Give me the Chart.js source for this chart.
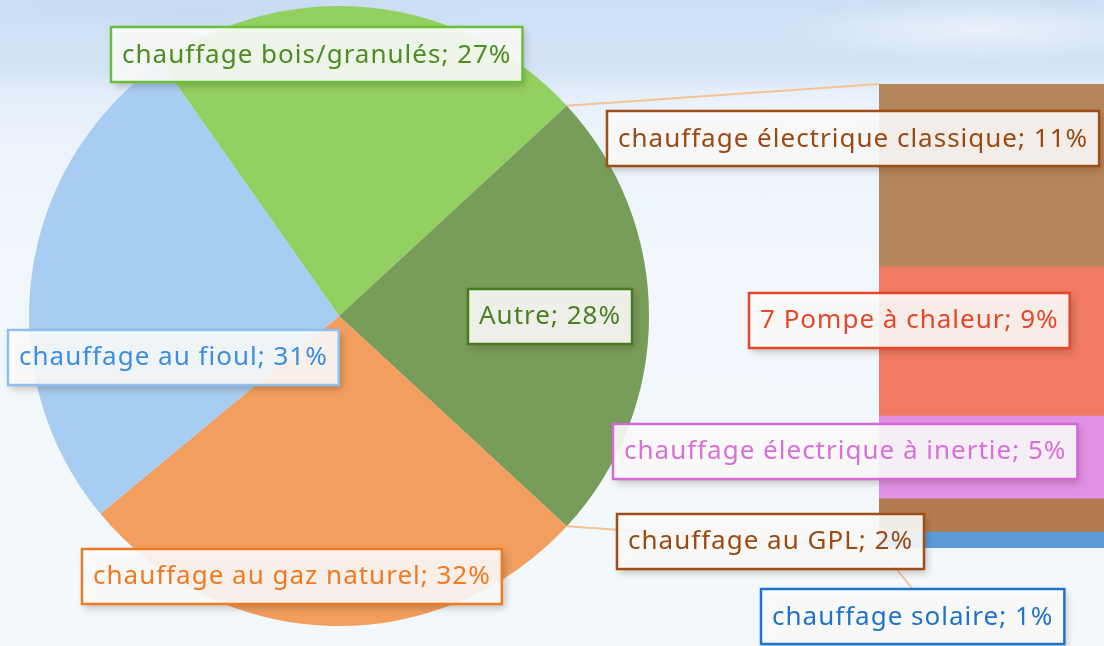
<!DOCTYPE html>
<html>
<head>
<meta charset="utf-8">
<script src="https://cdn.jsdelivr.net/npm/chart.js@4.4.1/dist/chart.umd.min.js"></script>
<style>
html,body{margin:0;padding:0;width:1104px;height:646px;overflow:hidden;}
body{
  background:
    radial-gradient(ellipse 260px 40px at 980px 30px, rgba(255,255,255,0.55), rgba(255,255,255,0) 80%),
    radial-gradient(ellipse 420px 50px at 820px 120px, rgba(255,255,255,0.45), rgba(255,255,255,0) 80%),
    radial-gradient(ellipse 380px 30px at 200px 10px, rgba(190,215,240,0.5), rgba(190,215,240,0) 80%),
    linear-gradient(180deg, #cddff3 0px, #d3e4f6 70px, #e3eefa 92px, #ebf3fb 150px, #f1f7fc 250px, #f3f8fc 100%);
}
.layer{position:absolute;left:0;top:0;width:1104px;height:646px;}
</style>
</head>
<body>
<div class="layer"><canvas id="pie"></canvas></div>
<div class="layer"><canvas id="bar"></canvas></div>
<script>
// ---- data ----
const pieLabels = ['chauffage bois/granulés', 'Autre', 'chauffage au gaz naturel', 'chauffage au fioul'];
const pieValues = [27, 28, 32, 31];
const pieColors = ['#93d062', '#789c5a', '#f29e5e', '#a8cdf2'];

const barLabels = ['chauffage électrique classique', '7 Pompe à chaleur', 'chauffage électrique à inertie', 'chauffage au GPL', 'chauffage solaire'];
const barValues = [11, 9, 5, 2, 1];
const barColors = ['#b5855a', '#f07b62', '#e091e6', '#b37c50', '#5b9bd8'];

// ---- label layout (box centers, colours) ----
const pieLabelStyle = [
  {cx: 316.5, cy: 54.5, text: '#4e8c24', border: '#6abf3a'},
  {cx: 550,   cy: 316,  text: '#4b7f22', border: '#4a7a1e'},
  {cx: 291.5, cy: 576,  text: '#ef7a22', border: '#ef7a22'},
  {cx: 173,   cy: 357,  text: '#3b8ee0', border: '#8ec0f2'}
];
const barLabelStyle = [
  {cx: 853.5, cy: 138.5, text: '#9a4a12', border: '#9e4e16'},
  {cx: 909,   cy: 320,   text: '#e5472a', border: '#e8462a'},
  {cx: 845.5, cy: 451,   text: '#d870d8', border: '#d56ad6'},
  {cx: 770.5, cy: 541,   text: '#9a4a12', border: '#9e4e16'},
  {cx: 913,   cy: 616.5, text: '#1f73c9', border: '#1f73c9'}
];

const pieTotal = pieValues.reduce((a, b) => a + b, 0);
// Excel "bar of pie": the "Autre" slice is centred on the right
const rotation = 90 - (pieValues[1] / pieTotal) * 180 - (pieValues[0] / pieTotal) * 360;

const pieChart = new Chart(document.getElementById('pie'), {
  type: 'pie',
  data: {
    labels: pieLabels,
    datasets: [{data: pieValues, backgroundColor: pieColors, borderWidth: 0, hoverOffset: 0, offset: 0}]
  },
  options: {
    responsive: true, maintainAspectRatio: false, animation: false,
    rotation: rotation,
    layout: {padding: {left: 29, top: 6, right: 455, bottom: 20}},
    plugins: {legend: {display: false}, tooltip: {enabled: false}}
  }
});

const FONT_FAMILY = '"Noto Sans", "DejaVu Sans", sans-serif';
const FONT_SIZE = 26;
const LETTER_SPACING = '1px';

function drawLabel(ctx, txt, st) {
  ctx.save();
  ctx.font = FONT_SIZE + 'px ' + FONT_FAMILY;
  ctx.letterSpacing = LETTER_SPACING;
  const tw = ctx.measureText(txt).width;
  const w = tw + 22, h = 55;
  const x = Math.round(st.cx - w / 2), y = Math.round(st.cy - h / 2);
  ctx.shadowColor = 'rgba(60,40,20,0.30)';
  ctx.shadowBlur = 7;
  ctx.shadowOffsetX = 3;
  ctx.shadowOffsetY = 4;
  ctx.fillStyle = 'rgba(255,255,255,0.88)';
  ctx.fillRect(x, y, w, h);
  ctx.shadowColor = 'transparent';
  ctx.lineWidth = 2.5;
  ctx.strokeStyle = st.border;
  ctx.strokeRect(x, y, w, h);
  ctx.fillStyle = st.text;
  ctx.textAlign = 'left';
  ctx.textBaseline = 'middle';
  ctx.fillText(txt, x + 11, st.cy + 1);
  ctx.restore();
}

const overlay = {
  id: 'overlay',
  afterDraw(chart) {
    const ctx = chart.ctx;
    const arc = pieChart.getDatasetMeta(0).data[1].getProps(['x', 'y', 'startAngle', 'endAngle', 'outerRadius'], true);
    const first = chart.getDatasetMeta(0).data[0].getProps(['x', 'y', 'base', 'width'], true);
    const lastMeta = chart.getDatasetMeta(barValues.length - 1).data[0].getProps(['x', 'y', 'base', 'width'], true);
    const left = first.x - first.width / 2;
    const top = Math.min(first.y, first.base);
    const bottom = Math.max(lastMeta.y, lastMeta.base);

    ctx.save();
    ctx.strokeStyle = '#f5c293';
    ctx.lineWidth = 2;
    ctx.beginPath();
    ctx.moveTo(arc.x + arc.outerRadius * Math.cos(arc.startAngle), arc.y + arc.outerRadius * Math.sin(arc.startAngle));
    ctx.lineTo(left, top);
    ctx.moveTo(arc.x + arc.outerRadius * Math.cos(arc.endAngle), arc.y + arc.outerRadius * Math.sin(arc.endAngle));
    ctx.lineTo(left, bottom);
    // leader line for the small solaire segment
    const sol = barLabelStyle[barLabelStyle.length - 1];
    ctx.moveTo(left, bottom - 1);
    ctx.lineTo(sol.cx, sol.cy - 27);
    ctx.stroke();
    ctx.restore();

    pieLabels.forEach((l, i) => drawLabel(ctx, l + '; ' + pieValues[i] + '%', pieLabelStyle[i]));
    barLabels.forEach((l, i) => drawLabel(ctx, l + '; ' + barValues[i] + '%', barLabelStyle[i]));
  }
};

const barTotal = barValues.reduce((a, b) => a + b, 0);
const barChart = new Chart(document.getElementById('bar'), {
  type: 'bar',
  data: {
    labels: [''],
    datasets: barLabels.map((l, i) => ({
      label: l, data: [barValues[i]], backgroundColor: barColors[i],
      borderWidth: 0, barPercentage: 1, categoryPercentage: 1
    }))
  },
  options: {
    responsive: true, maintainAspectRatio: false, animation: false,
    layout: {padding: {left: 879, top: 84, right: 0, bottom: 98}},
    scales: {
      x: {display: false, stacked: true},
      y: {display: false, stacked: true, reverse: true, min: 0, max: barTotal}
    },
    plugins: {legend: {display: false}, tooltip: {enabled: false}}
  },
  plugins: [overlay]
});
</script>
</body>
</html>
